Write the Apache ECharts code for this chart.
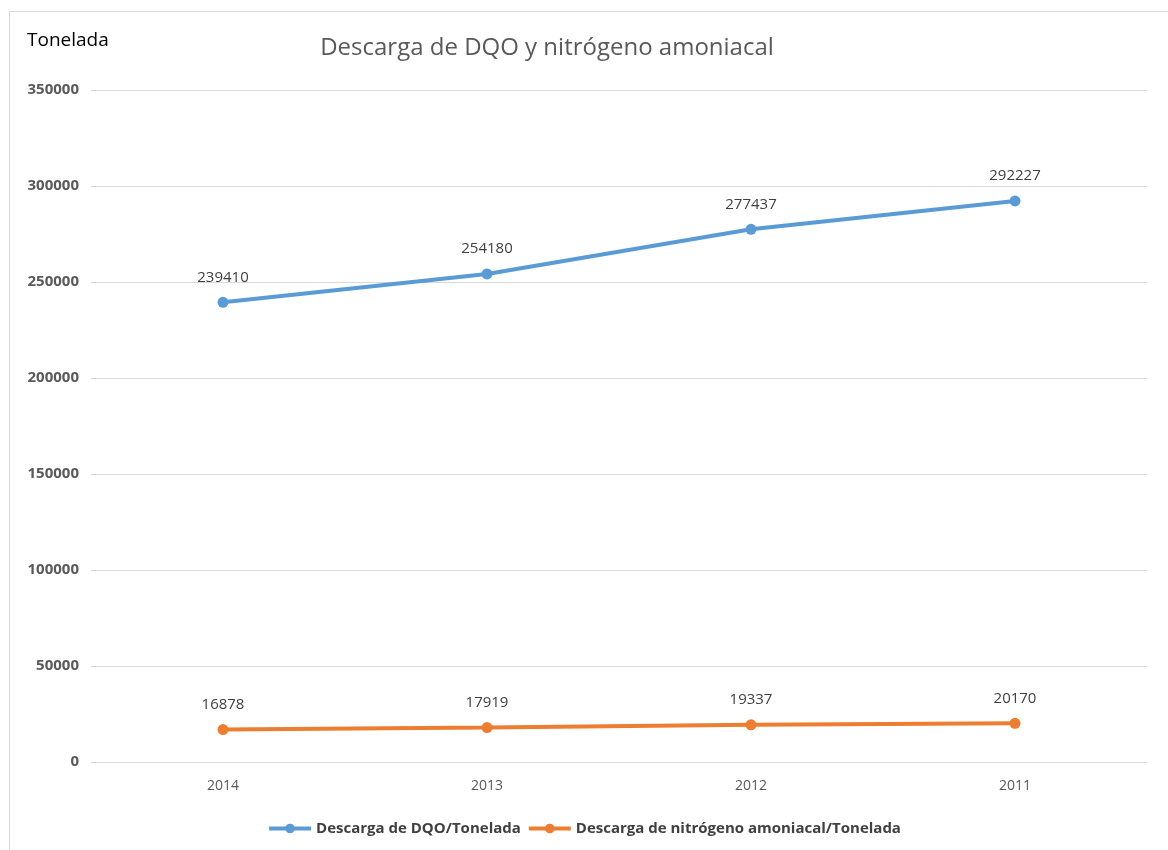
<!DOCTYPE html>
<html>
<head>
<meta charset="utf-8">
<script src="https://cdn.jsdelivr.net/npm/echarts@6/dist/echarts.min.js"></script>
<style>
  html, body { margin: 0; padding: 0; background: #fff; }
  #chart { width: 1168px; height: 850px; }
</style>
</head>
<body>
<div id="chart"></div>
<script>
const years = ['2014', '2013', '2012', '2011']
const dqo = [239410, 254180, 277437, 292227]
const nitrogeno = [16878, 17919, 19337, 20170]
const seriesNames = ['Descarga de DQO/Tonelada', 'Descarga de nitrógeno amoniacal/Tonelada']

const font = '"Open Sans", "Noto Sans", sans-serif'

const chart = echarts.init(document.getElementById('chart'))

chart.setOption({
  animation: false,
  textStyle: { fontFamily: font },
  title: {
    text: 'Descarga de DQO y nitrógeno amoniacal',
    left: 542,
    top: 31,
    textAlign: 'center',
    textStyle: { color: '#595959', fontSize: 24, fontWeight: 'normal', fontFamily: font }
  },
  graphic: [
    {
      type: 'rect',
      silent: true,
      shape: { x: 9.5, y: 11.5, width: 1175, height: 860 },
      style: { fill: 'none', stroke: '#d9d9d9', lineWidth: 1 }
    },
    {
      type: 'text',
      left: 27,
      top: 31,
      style: { text: 'Tonelada', fill: '#000', fontSize: 19, fontFamily: font }
    }
  ],
  legend: {
    bottom: 9,
    left: 'center',
    itemWidth: 42,
    itemHeight: 12,
    itemGap: 6,
    lineStyle: { width: 4 },
    textStyle: { color: '#404040', fontSize: 15, fontWeight: 'bold', fontFamily: font },
    data: seriesNames
  },
  grid: { left: 91, right: 21, top: 90, bottom: 88 },
  xAxis: {
    type: 'category',
    data: years,
    boundaryGap: true,
    axisLine: { show: false },
    axisTick: { show: false },
    axisLabel: { color: '#595959', fontSize: 14, margin: 17 }
  },
  yAxis: {
    type: 'value',
    min: 0,
    max: 350000,
    interval: 50000,
    axisLine: { show: false },
    axisTick: { show: false },
    axisLabel: { color: '#595959', fontSize: 15, fontWeight: 'bold', margin: 12, formatter: v => String(v) },
    splitLine: { lineStyle: { color: '#d9d9d9', width: 1 } }
  },
  series: [
    {
      name: seriesNames[0],
      type: 'line',
      data: dqo,
      symbol: 'circle',
      symbolSize: 11,
      lineStyle: { color: '#5B9BD5', width: 4 },
      itemStyle: { color: '#5B9BD5' },
      label: { show: true, position: 'top', distance: 12, color: '#404040', fontSize: 15 }
    },
    {
      name: seriesNames[1],
      type: 'line',
      data: nitrogeno,
      symbol: 'circle',
      symbolSize: 11,
      lineStyle: { color: '#ED7D31', width: 4 },
      itemStyle: { color: '#ED7D31' },
      label: { show: true, position: 'top', distance: 12, color: '#404040', fontSize: 15 }
    }
  ]
})
</script>
</body>
</html>
